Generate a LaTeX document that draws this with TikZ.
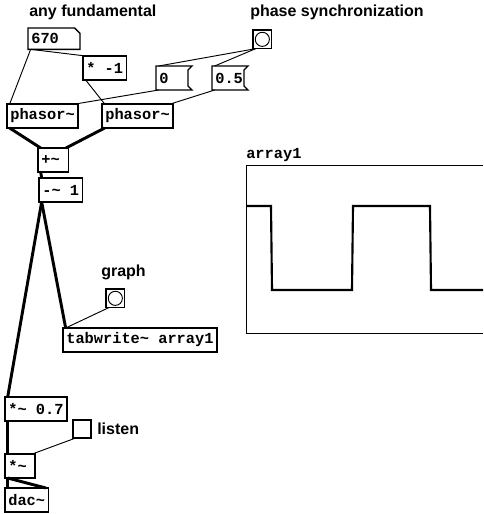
\documentclass[tikz,border=0pt]{standalone}
\usepackage{fontspec}
\setmainfont{Liberation Sans}
\setsansfont{Liberation Sans}
\setmonofont{Liberation Mono}
\usetikzlibrary{positioning}
\newcommand{\pdfont}{\fontsize{11.5}{12}\selectfont\ttfamily\bfseries}
\newcommand{\lblfont}{\fontsize{12}{14}\selectfont\sffamily\bfseries}

\begin{document}
\begin{tikzpicture}[x=0.75pt, y=-0.75pt,
  box/.style={line width=1pt},
  obj/.style={draw, box, anchor=north west, font=\pdfont, align=left,
              inner xsep=2.5pt, inner ysep=0pt, minimum height=18pt, outer sep=0pt},
  shaped/.style={obj, draw=none},
  bang/.style={obj, minimum width=14pt, minimum height=14pt, inner sep=0pt},
  ctl/.style={line width=0.7pt},
  sig/.style={line width=2.2pt},
  lbl/.style={font=\lblfont, anchor=west, inner sep=0pt}]
  \useasboundingbox (0,0) rectangle (483,514);

  % labels
  \node[lbl] (fundlbl) at (29,12) {any fundamental};
  \node[lbl] (synclbl) at (250,12) {phase synchronization};
  \node[lbl] (graphlbl) at (101,272) {graph};
  \node[lbl] (listenlbl) at (97,429) {listen};

  % number box and messages
  \node[shaped, text width=34pt, minimum height=16pt] (freq) at (28,28) {670};
  \draw[box] (freq.north west) -- ([xshift=-4pt]freq.north east)
    -- ([yshift=-4pt]freq.north east) -- (freq.south east) -- (freq.south west) -- cycle;
  \node[shaped, text width=22pt] (msgzero) at (156,66) {0};
  \node[shaped, text width=22pt] (msghalf) at (212,66) {0.5};
  \foreach \m in {msgzero,msghalf}
    \draw[box] (\m.north west) -- (\m.north east) -- ([xshift=-3pt,yshift=-3pt]\m.north east)
      -- ([xshift=-3pt,yshift=3pt]\m.south east) -- (\m.south east) -- (\m.south west) -- cycle;

  % bangs and toggle
  \node[bang] (sync) at (253,30) {};
  \draw[ctl] (sync.center) circle (5.3pt);
  \node[bang] (trig) at (106,289) {};
  \draw[ctl] (trig.center) circle (5.3pt);
  \node[bang, minimum width=13.5pt, minimum height=13.5pt] (listen) at (73,420) {};

  % objects
  \node[obj] (neg) at (83,56) {* -1};
  \node[obj] (phA) at (7,104) {phasor\textasciitilde};
  \node[obj] (phB) at (102,104) {phasor\textasciitilde};
  \node[obj, text width=18pt] (sum) at (38,148) {+\textasciitilde};
  \node[obj] (offset) at (39,178) {-\textasciitilde{} 1};
  \node[obj] (tabw) at (63,328) {tabwrite\textasciitilde{} array1};
  \node[obj] (gain) at (5,397) {*\textasciitilde{} 0.7};
  \node[obj, text width=17.5pt] (mute) at (5,454) {*\textasciitilde};
  \node[obj] (dac) at (5,488) {dac\textasciitilde};

  % array
  \node[font=\pdfont, anchor=south west, inner sep=0pt] (arrlbl) at (246,162) {array1};
  \draw[ctl] (483,165) -- (246,165) -- (246,333) -- (483,333);
  \draw[line width=1.6pt] (246,206) -- (271,206) -- (272,290) -- (352,290) -- (353,206)
    -- (430,206) -- (431,290) -- (483,290);

  % control connections
  \foreach \src/\dst in {freq/phA, freq/neg, neg/phB, sync/msgzero, sync/msghalf, trig/tabw}
    \draw[ctl] ([xshift=2pt]\src.south west) -- ([xshift=2pt]\dst.north west);
  \draw[ctl] ([xshift=2pt]msgzero.south west) -- ([xshift=-2pt]phA.north east);
  \draw[ctl] ([xshift=2pt]msghalf.south west) -- ([xshift=-2pt]phB.north east);
  \draw[ctl] ([xshift=2pt]listen.south west) -- ([xshift=-2pt]mute.north east);

  % signal connections
  \foreach \src/\dst in {phA/sum, sum/offset, offset/tabw, offset/gain, gain/mute, mute/dac}
    \draw[sig] ([xshift=2pt]\src.south west) -- ([xshift=2pt]\dst.north west);
  \draw[sig] ([xshift=2pt]phB.south west) -- ([xshift=-2pt]sum.north east);
  \draw[sig] ([xshift=2pt]mute.south west) -- ([xshift=-2pt]dac.north east);
\end{tikzpicture}
\end{document}
